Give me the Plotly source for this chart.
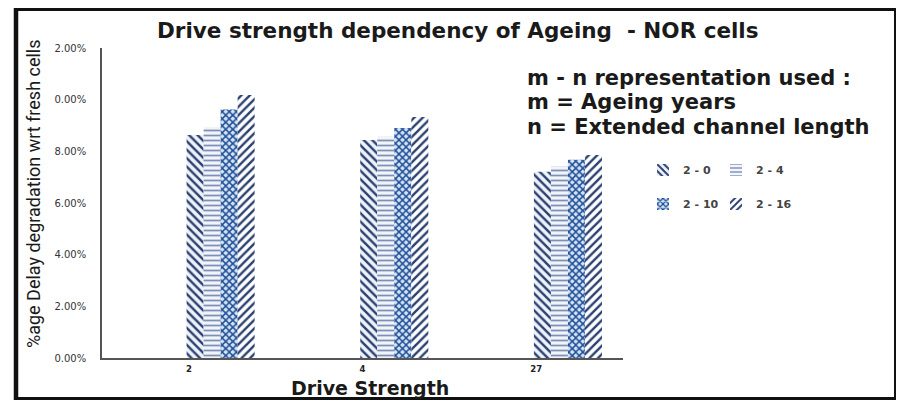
import plotly.graph_objects as go

# Drive strengths (x categories) and delay degradation (%) per m-n configuration
drive_strength = ["2", "4", "27"]
deg_2_0 = [8.63, 8.44, 7.21]
deg_2_4 = [8.94, 8.56, 7.41]
deg_2_10 = [9.62, 8.90, 7.67]
deg_2_16 = [10.18, 9.33, 7.86]

series_names = ["2 - 0", "2 - 4", "2 - 10", "2 - 16"]
y_tick_vals = [0, 2, 4, 6, 8, 10, 12]
y_tick_text = ["0.00%", "2.00%", "4.00%", "6.00%", "8.00%", "0.00%", "2.00%"]

W, H = 906, 402
L, R, T, B = 102, 623, 48, 358  # plot area in pixels


def px(x):
    return (x - L) / (R - L)


def py(y):
    return (B - y) / (B - T)


BOLD = "DejaVu Sans"
NAVY = "#2a4070"

styles = [
    dict(shape="\\", fg=NAVY, bg="#eef2f9", size=6, solidity=0.4),
    dict(shape="-", fg="#7d90b6", bg="#f1f5fb", size=5, solidity=0.35),
    dict(shape="x", fg="#1f4e96", bg="#d4e3f5", size=5, solidity=0.5),
    dict(shape="/", fg=NAVY, bg="#ffffff", size=6, solidity=0.4),
]

# each legend entry sits in its own small legend box (2 x 2 grid)
legend_ids = ["legend", "legend2", "legend3", "legend4"]
legend_pos = [(643, 170), (716, 170), (643, 204), (716, 204)]

series_vals = [deg_2_0, deg_2_4, deg_2_10, deg_2_16]
bar_w = 0.098
start = -0.013

fig = go.Figure()
for i, (name, vals, st) in enumerate(zip(series_names, series_vals, styles)):
    fig.add_trace(go.Bar(
        x=drive_strength, y=vals, name=name,
        offset=start + i * bar_w, width=bar_w,
        marker=dict(
            color=st["bg"], line=dict(width=0),
            pattern=dict(shape=st["shape"], fgcolor=st["fg"], bgcolor=st["bg"],
                         size=st["size"], solidity=st["solidity"], fillmode="replace"),
        ),
        legend=legend_ids[i],
    ))

legend_common = dict(
    orientation="h", xref="container", yref="container",
    yanchor="middle", xanchor="left", bgcolor="rgba(0,0,0,0)",
    font=dict(family=BOLD, size=11, color="#444", weight="bold"),
    itemwidth=30,
)
legend_layout = {
    lid: dict(legend_common, x=lx / W, y=1 - ly / H)
    for lid, (lx, ly) in zip(legend_ids, legend_pos)
}

frame = "#111111"
shapes = [
    dict(type="line", xref="paper", yref="paper", x0=px(16), x1=px(16), y0=py(8), y1=py(400),
         line=dict(color=frame, width=4.5)),
    dict(type="line", xref="paper", yref="paper", x0=px(14), x1=px(896), y0=py(9.5), y1=py(9.5),
         line=dict(color=frame, width=3)),
    dict(type="line", xref="paper", yref="paper", x0=px(895), x1=px(895), y0=py(8), y1=py(400),
         line=dict(color=frame, width=2)),
    dict(type="line", xref="paper", yref="paper", x0=px(14), x1=px(896), y0=py(398.5), y1=py(398.5),
         line=dict(color=frame, width=3)),
]

text_font = dict(family=BOLD, size=21, color="#1a1a1a", weight="bold")
info_lines = ["m - n representation used :", "m = Ageing years", "n = Extended channel length"]
info_y = [78, 102, 127]

annotations = [
    dict(text="Drive strength dependency of Ageing  - NOR cells", x=px(458), y=py(31),
         xref="paper", yref="paper", showarrow=False, xanchor="center", yanchor="middle",
         font=dict(family=BOLD, size=21.5, color="#1a1a1a", weight="bold")),
    dict(text="Drive Strength", x=px(370), y=py(388), xref="paper", yref="paper",
         showarrow=False, xanchor="center", yanchor="middle",
         font=dict(family=BOLD, size=19, color="#1a1a1a", weight="bold")),
    dict(text="%age Delay degradation wrt fresh cells", x=px(33), y=py(194),
         xref="paper", yref="paper", showarrow=False, textangle=-90,
         xanchor="center", yanchor="middle",
         font=dict(family="Roboto", size=18, color="#1a1a1a")),
]
for line, yy in zip(info_lines, info_y):
    annotations.append(dict(text=line, x=px(525), y=py(yy), xref="paper", yref="paper",
                            showarrow=False, xanchor="left", yanchor="middle",
                            font=text_font))

fig.update_layout(
    width=W, height=H,
    margin=dict(l=L, r=W - R, t=T, b=H - B, autoexpand=False),
    paper_bgcolor="white", plot_bgcolor="white",
    barmode="overlay",
    showlegend=True,
    shapes=shapes,
    annotations=annotations,
    xaxis=dict(
        type="category", showline=True, linecolor="#555", linewidth=1.5,
        showgrid=False, zeroline=False, ticks="", ticklabelstandoff=2,
        tickfont=dict(family=BOLD, size=8.5, color="#222", weight="bold"),
    ),
    yaxis=dict(
        range=[0, 12], tickvals=y_tick_vals, ticktext=y_tick_text,
        showline=True, linecolor="#555", linewidth=1.5,
        showgrid=False, zeroline=False, ticks="", ticklabelstandoff=12,
        tickfont=dict(family=BOLD, size=10, color="#333"),
    ),
    **legend_layout,
)

fig.write_html("out.html")
